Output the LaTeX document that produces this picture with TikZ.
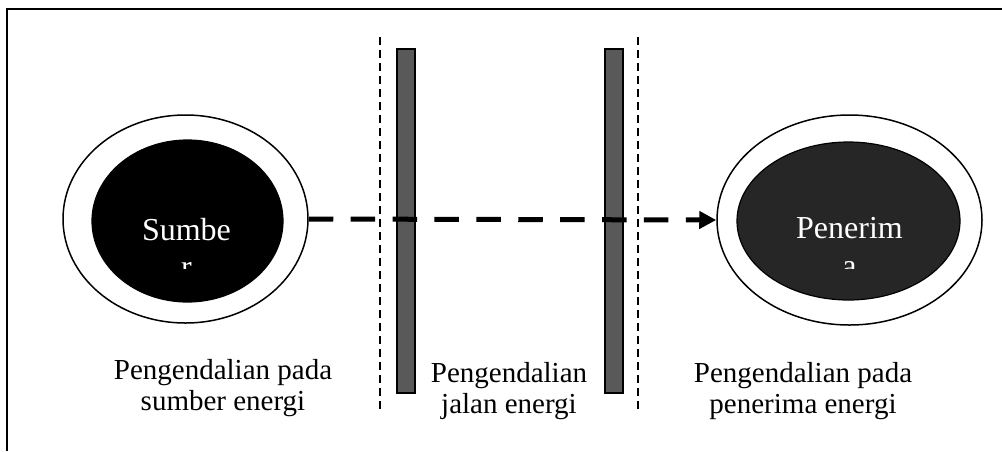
\documentclass[tikz,border=0pt]{standalone}
\usepackage{fontspec}
\setmainfont{Liberation Serif}
\usetikzlibrary{arrows.meta,shapes.geometric}
\definecolor{bargray}{HTML}{595959}
\definecolor{darkfill}{HTML}{262626}
\tikzset{
  outer/.style={ellipse, draw, line width=1.5pt, fill=white, inner sep=0pt},
  innerell/.style={ellipse, draw, line width=1.2pt, inner sep=0pt},
  barbox/.style={draw, line width=1.3pt, fill=bargray, minimum width=18pt, minimum height=344pt, inner sep=0pt},
  sepline/.style={line width=1.5pt, dash pattern=on 8pt off 5pt},
  flow/.style={line width=5pt, dash pattern=on 24.5pt off 17.4pt, -{Triangle[length=17pt,width=17pt]}},
  lab/.style={font=\fontsize{29}{31}\selectfont, align=center, inner sep=0pt},
  intext/.style={text=white, font=\fontsize{32}{37}\selectfont, inner sep=0pt, anchor=base}
}
\begin{document}
\begin{tikzpicture}[x=1pt,y=-1pt]
\useasboundingbox (0,0) rectangle (1002,451);
% frame
\draw[line width=1.5pt] (7,451) -- (7,9) -- (1002,9);
% separators
\coordinate (s1t) at (380,37); \coordinate (s1b) at (380,413);
\coordinate (s2t) at (638,37); \coordinate (s2b) at (638,413);
\draw[sepline] (s1t) -- (s1b);
\draw[sepline] (s2t) -- (s2b);
% bars
\node[barbox] (bar1) at (406,221) {};
\node[barbox] (bar2) at (614,221) {};
% source
\node[outer, minimum width=245pt, minimum height=208pt] (src) at (185.5,219) {};
\node[innerell, fill=black, minimum width=191pt, minimum height=162pt] (srcin) at (187.5,221) {};
\begin{scope}
\clip (100,190) rectangle (280,268);
\node[intext] (srct) at (186.5,240) {Sumbe};
\node[intext] (srct2) at (186.5,277) {r};
\end{scope}
% receiver
\node[outer, minimum width=265pt, minimum height=210pt] (rcv) at (849.5,220) {};
\node[innerell, fill=darkfill, minimum width=223pt, minimum height=158pt] (rcvin) at (848.5,221) {};
\begin{scope}
\clip (740,190) rectangle (960,268);
\node[intext] (rcvt) at (849.5,238) {Penerim};
\node[intext] (rcvt2) at (849.5,276) {a};
\end{scope}
% flow arrow
\draw[flow] (src.east) -- (rcv.west);
% labels
\node[lab] (l1) at (223,388) {Pengendalian pada\\sumber energi};
\node[lab] (l2) at (509,391) {Pengendalian\\jalan energi};
\node[lab] (l3) at (803,391) {Pengendalian pada\\penerima energi};
\end{tikzpicture}
\end{document}
